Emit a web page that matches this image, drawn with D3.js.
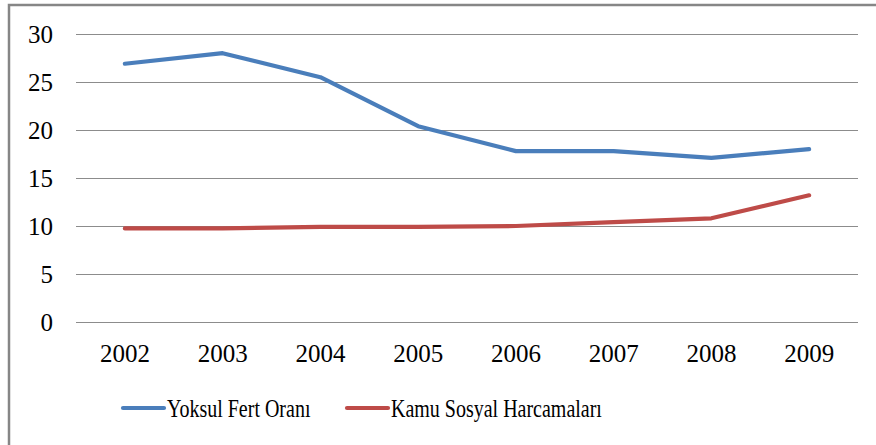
<!DOCTYPE html>
<html>
<head>
<meta charset="utf-8">
<script src="https://cdn.jsdelivr.net/npm/d3@7"></script>
<style>
  body { margin: 0; background: #fff; }
  svg { display: block; }
  svg text { font-family: "Liberation Serif", "Times New Roman", Times, serif; }
</style>
</head>
<body>
<svg id="chart" width="876" height="445"></svg>
<script>
// data
const years = ["2002", "2003", "2004", "2005", "2006", "2007", "2008", "2009"];
const yoksulFert = [26.9, 28.0, 25.5, 20.4, 17.8, 17.8, 17.1, 18.0];
const kamuSosyal = [9.75, 9.75, 9.9, 9.9, 10.0, 10.4, 10.8, 13.2];
const yTicks = [0, 5, 10, 15, 20, 25, 30];
const seriesNames = ["Yoksul Fert Oranı", "Kamu Sosyal Harcamaları"];
const seriesColors = ["#4a7ebb", "#be4b48"];

const svg = d3.select("#chart");

// outer chart frame (runs off the right/bottom of the picture)
svg.append("rect")
  .attr("x", 9).attr("y", 5)
  .attr("width", 900).attr("height", 500)
  .attr("fill", "none")
  .attr("stroke", "#868686")
  .attr("stroke-width", 2.5);

const plot = { left: 76, right: 858, top: 34, bottom: 322 };

const x = d3.scaleBand().domain(years).range([plot.left, plot.right]);
const y = d3.scaleLinear().domain([0, 30]).range([plot.bottom, plot.top]);

// gridlines + y labels
const yAxis = svg.append("g")
  .attr("transform", `translate(${plot.left},0)`)
  .call(d3.axisLeft(y).tickValues(yTicks).tickSize(-(plot.right - plot.left)).tickPadding(23));
yAxis.select(".domain").remove();
yAxis.selectAll(".tick line").attr("stroke", "#8c8c8c").attr("stroke-width", 1.2);
yAxis.selectAll(".tick text")
  .attr("font-size", 25).attr("fill", "#000")
  .attr("dy", "0.34em");

// x labels
const xAxis = svg.append("g")
  .attr("transform", `translate(0,${plot.bottom})`)
  .call(d3.axisBottom(x).tickSize(0).tickPadding(22));
xAxis.select(".domain").remove();
xAxis.selectAll(".tick text")
  .attr("font-size", 25).attr("fill", "#000");
svg.selectAll("g").attr("font-family", null);

// lines
const line = d3.line()
  .x((d, i) => x(years[i]) + x.bandwidth() / 2)
  .y(d => y(d));

[yoksulFert, kamuSosyal].forEach((vals, k) => {
  svg.append("path")
    .datum(vals)
    .attr("d", line)
    .attr("fill", "none")
    .attr("stroke", seriesColors[k])
    .attr("stroke-width", 4.2)
    .attr("stroke-linejoin", "round")
    .attr("stroke-linecap", "round");
});

// legend (text is horizontally condensed in the original)
const legendX = [123, 347];
const legendY = 408;
seriesNames.forEach((name, k) => {
  const g = svg.append("g").attr("transform", `translate(${legendX[k]},${legendY})`);
  g.append("line")
    .attr("x1", 0).attr("x2", 41).attr("y1", 0).attr("y2", 0)
    .attr("stroke", seriesColors[k]).attr("stroke-width", 4.2)
    .attr("stroke-linecap", "round");
  g.append("text")
    .attr("transform", "translate(44,0) scale(0.8,1)")
    .attr("dy", "0.34em")
    .attr("font-size", 25)
    .attr("fill", "#000")
    .text(name);
});
</script>
</body>
</html>
